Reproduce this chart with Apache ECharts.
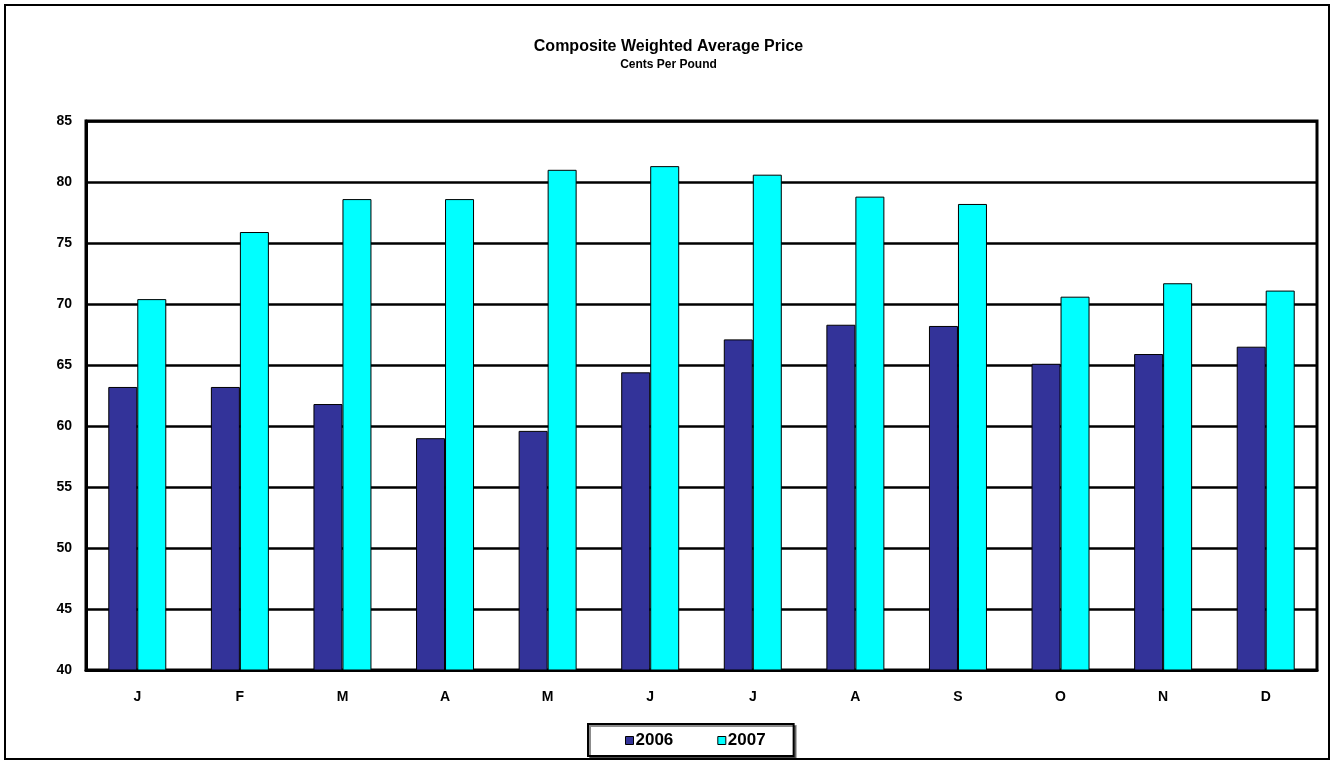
<!DOCTYPE html>
<html>
<head>
<meta charset="utf-8">
<script src="https://cdn.jsdelivr.net/npm/echarts@6/dist/echarts.min.js"></script>
<style>
html,body{margin:0;padding:0;background:#fff;}
#wrap{position:absolute;left:4px;top:4px;width:1326px;height:756px;border:2px solid #000;box-sizing:border-box;}
#chart{position:absolute;left:0;top:0;width:1337px;height:766px;}
</style>
</head>
<body>
<div id="wrap"></div>
<div id="chart"></div>
<script>
const categories = ['J','F','M','A','M','J','J','A','S','O','N','D'];
const seriesNames = ['2006','2007'];
const values2006 = [63.2, 63.2, 61.8, 59.0, 59.6, 64.4, 67.1, 68.3, 68.2, 65.1, 65.9, 66.5];
const values2007 = [70.4, 75.9, 78.6, 78.6, 81.0, 81.3, 80.6, 78.8, 78.2, 70.6, 71.7, 71.1];
const yTicks = [40, 45, 50, 55, 60, 65, 70, 75, 80, 85];

const chart = echarts.init(document.getElementById('chart'), null, {renderer:'canvas'});
const font = 'Liberation Sans, Arial, sans-serif';
chart.setOption({
  backgroundColor: 'transparent',
  animation: false,
  title: {
    text: 'Composite Weighted Average Price',
    subtext: 'Cents Per Pound',
    left: 'center',
    top: 34,
    itemGap: 4,
    textStyle: {fontFamily: font, fontWeight: 'bold', fontSize: 16, color: '#000'},
    subtextStyle: {fontFamily: font, fontWeight: 'bold', fontSize: 12, color: '#000'}
  },
  legend: {
    data: seriesNames,
    icon: 'rect',
    left: 588,
    top: 724,
    itemWidth: 8,
    itemHeight: 8,
    itemGap: 44,
    padding: [8, 28, 7, 37],
    borderColor: '#000',
    borderWidth: 2,
    shadowColor: 'rgba(0,0,0,0.45)',
    shadowOffsetX: 2,
    shadowOffsetY: 2,
    backgroundColor: '#fff',
    textStyle: {fontFamily: font, fontWeight: 'bold', fontSize: 17, color: '#000', padding: [0,0,0,-3]},
    itemStyle: {borderColor: '#000', borderWidth: 1}
  },
  grid: {left: 86, right: 20, top: 121, bottom: 96, show: true, borderColor: '#000', borderWidth: 3, containLabel: false},
  xAxis: {
    type: 'category',
    data: categories,
    axisLine: {show: true, lineStyle: {color: '#000', width: 3}},
    axisTick: {show: false},
    axisLabel: {fontFamily: font, fontWeight: 'bold', fontSize: 14, color: '#000', margin: 20}
  },
  yAxis: {
    type: 'value',
    min: yTicks[0],
    max: yTicks[yTicks.length - 1],
    interval: 5,
    axisLine: {show: true, lineStyle: {color: '#000', width: 3}},
    axisTick: {show: false},
    axisLabel: {fontFamily: font, fontWeight: 'bold', fontSize: 14, color: '#000', margin: 14},
    splitLine: {lineStyle: {color: '#000', width: 2.5}}
  },
  series: [
    {name: seriesNames[0], type: 'bar', data: values2006, barWidth: 29, barGap: '0%',
     itemStyle: {color: '#333399', borderColor: '#000', borderWidth: 1}},
    {name: seriesNames[1], type: 'bar', data: values2007, barWidth: 29, barGap: '0%',
     itemStyle: {color: '#00FFFF', borderColor: '#000', borderWidth: 1}}
  ]
});
</script>
</body>
</html>
